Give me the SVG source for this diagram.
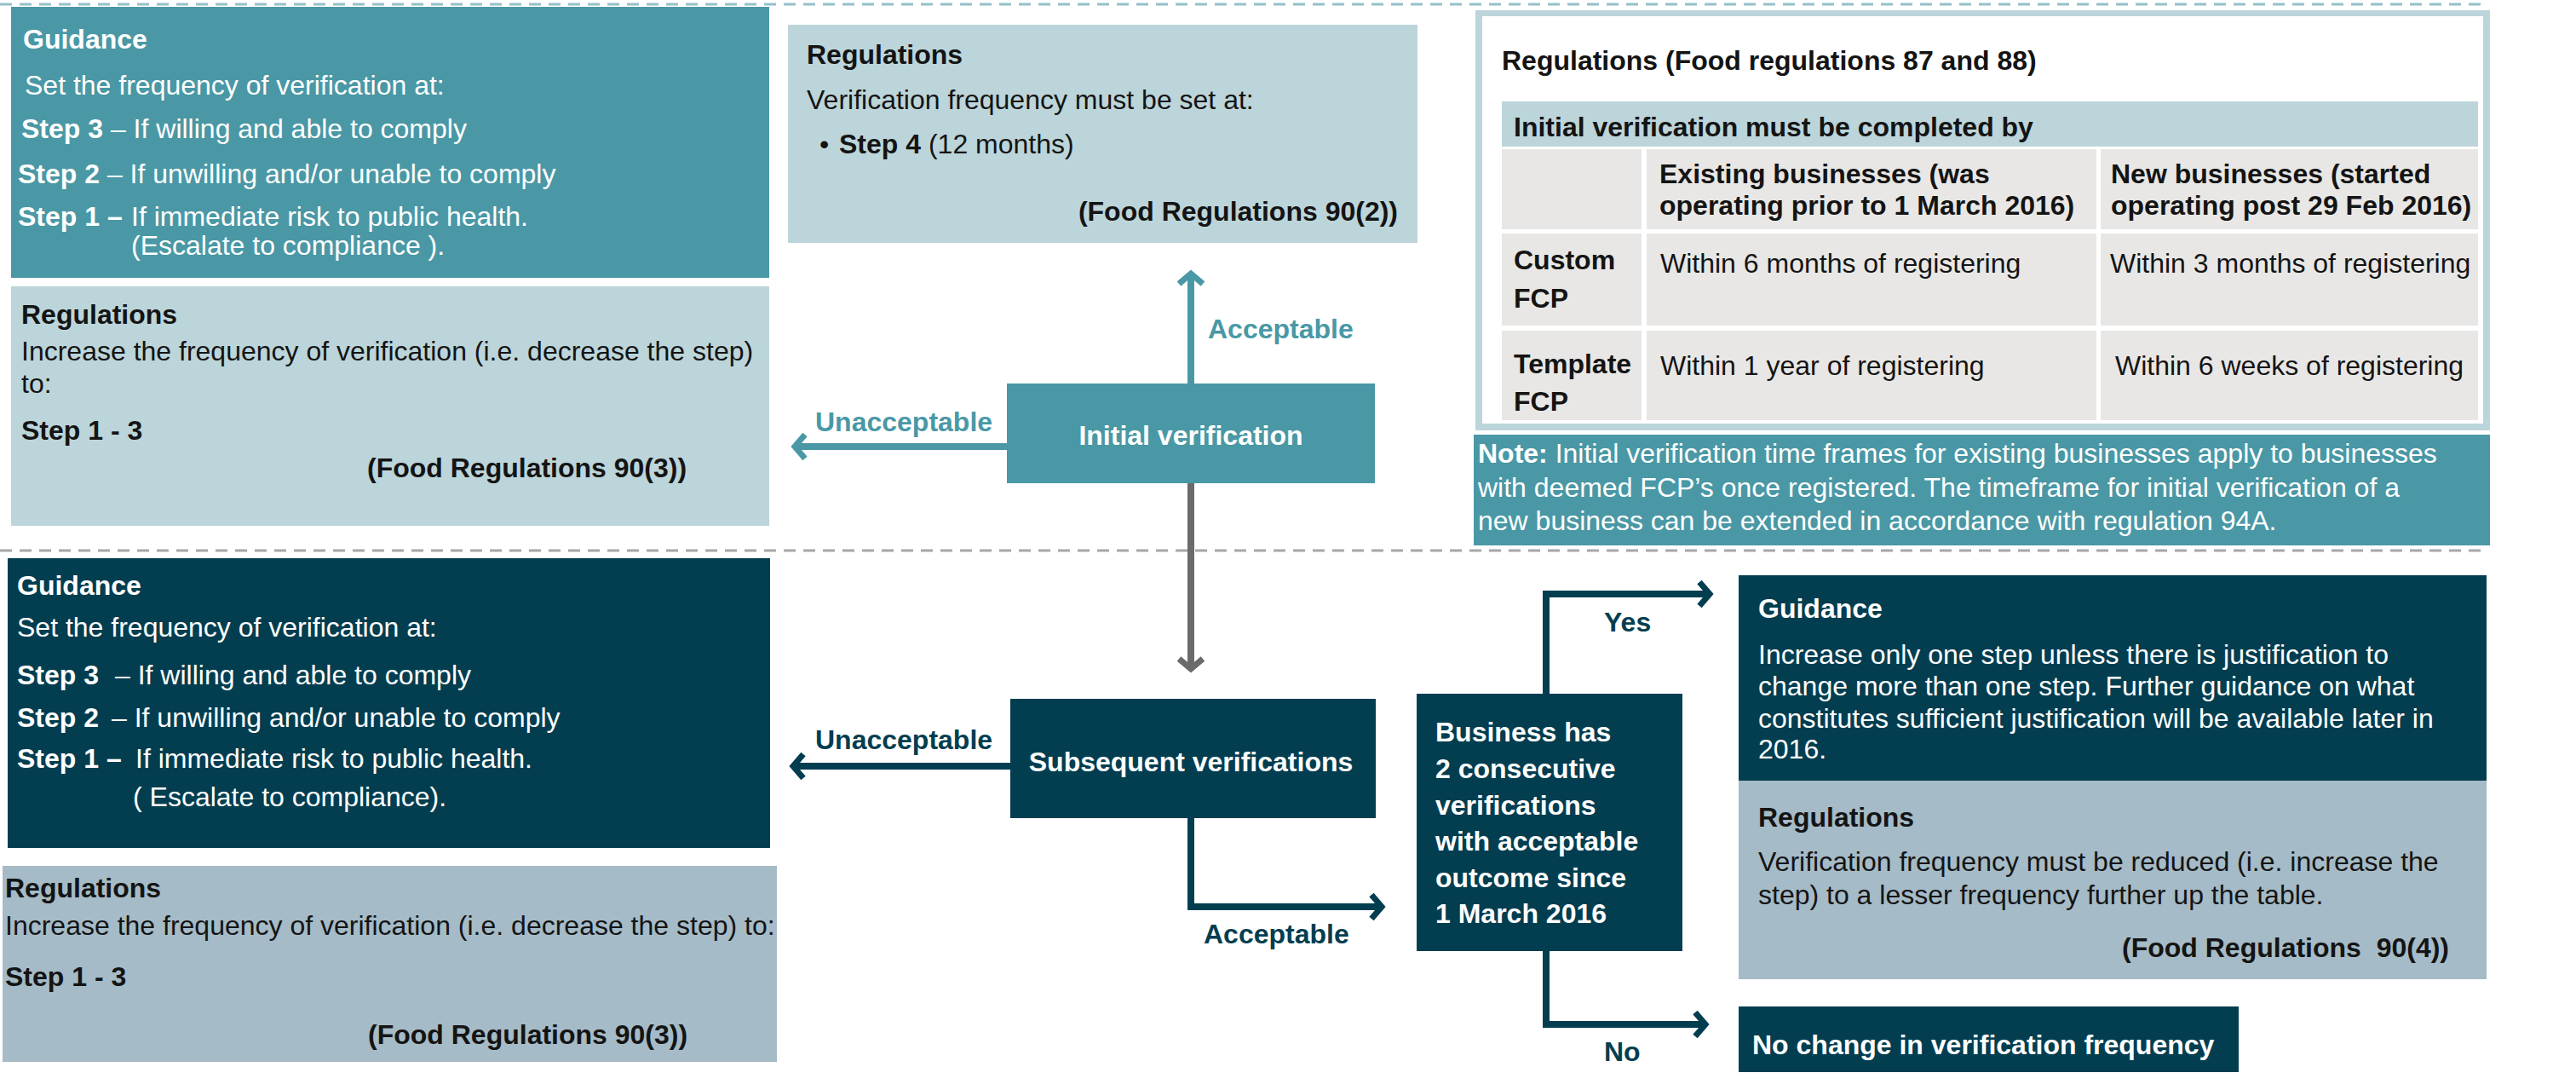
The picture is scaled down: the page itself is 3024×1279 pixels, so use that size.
<svg xmlns="http://www.w3.org/2000/svg" width="3024" height="1279" viewBox="0 0 3024 1279">
<style>
text{font-family:"Liberation Sans",Arial,sans-serif;font-size:32px;}
.b{font-weight:bold;}
.w{fill:#ffffff;}
.k{fill:#141414;}
.tl{fill:#4a98a5;}
.dk{fill:#033e50;}
.c{stroke-width:8;fill:none;stroke-linejoin:miter;}
</style>
<defs>
<marker id="ah-teal" markerUnits="userSpaceOnUse" viewBox="-20 -20 40 40" markerWidth="40" markerHeight="40" refX="0" refY="0" orient="auto"><path d="M-12,-14 L0,0 L-12,14" fill="none" stroke="#4a98a5" stroke-width="7"/></marker>
<marker id="ah-gray" markerUnits="userSpaceOnUse" viewBox="-20 -20 40 40" markerWidth="40" markerHeight="40" refX="0" refY="0" orient="auto"><path d="M-12,-14 L0,0 L-12,14" fill="none" stroke="#6b6b6b" stroke-width="7"/></marker>
<marker id="ah-dark" markerUnits="userSpaceOnUse" viewBox="-20 -20 40 40" markerWidth="40" markerHeight="40" refX="0" refY="0" orient="auto"><path d="M-12,-14 L0,0 L-12,14" fill="none" stroke="#033e50" stroke-width="7"/></marker>
</defs>
<rect width="3024" height="1279" fill="#ffffff"/>

<g id="dividers">
<line x1="0" y1="5" x2="2918" y2="5" stroke="#94c1c9" stroke-width="3" stroke-dasharray="14 9"/>
<line x1="0" y1="646" x2="2918" y2="646" stroke="#a6a6a6" stroke-width="3" stroke-dasharray="14 9"/>
</g>

<g id="guidance-initial">
<rect x="13" y="8" width="890" height="318" fill="#4a98a5"/>
<text class="b w" x="27" y="57">Guidance</text>
<text class="w" x="29" y="111">Set the frequency of verification at:</text>
<text class="w" x="25" y="162"><tspan class="b">Step 3</tspan> – If willing and able to comply</text>
<text class="w" x="21" y="215"><tspan class="b">Step 2</tspan> – If unwilling and/or unable to comply</text>
<text class="w" x="21" y="265"><tspan class="b">Step 1 –</tspan><tspan x="154">If immediate risk to public health.</tspan></text>
<text class="w" x="154" y="299">(Escalate to compliance ).</text>
</g>

<g id="regulations-initial-unacceptable">
<rect x="13" y="336" width="890" height="281" fill="#bcd5da"/>
<text class="b k" x="25" y="380">Regulations</text>
<text class="k" x="25" y="423">Increase the frequency of verification (i.e. decrease the step)</text>
<text class="k" x="25" y="461">to:</text>
<text class="b k" x="25" y="516">Step 1 - 3</text>
<text class="b k" x="431" y="560">(Food Regulations 90(3))</text>
</g>

<g id="regulations-initial-acceptable">
<rect x="925" y="29" width="739" height="256" fill="#bcd5da"/>
<text class="b k" x="947" y="75">Regulations</text>
<text class="k" x="947" y="128">Verification frequency must be set at:</text>
<text class="k" x="962" y="180">•</text>
<text class="k" x="985" y="180"><tspan class="b">Step 4</tspan> (12 months)</text>
<text class="b k" x="1641" y="259" text-anchor="end">(Food Regulations 90(2))</text>
</g>

<g id="initial-verification">
<rect x="1182" y="450" width="432" height="117" fill="#4a98a5"/>
<text class="b w" x="1398" y="522" text-anchor="middle">Initial verification</text>
</g>

<g id="regulations-table">
<rect x="1732" y="12" width="1191" height="493" fill="#bcd5da"/>
<rect x="1740" y="19" width="1175" height="478" fill="#ffffff"/>
<text class="b k" x="1763" y="82">Regulations (Food regulations 87 and 88)</text>
<rect x="1763" y="119" width="1146" height="53" fill="#bcd5da"/>
<text class="b k" x="1777" y="160">Initial verification must be completed by</text>
<g fill="#e8e7e5">
<rect x="1763" y="175" width="164" height="94"/>
<rect x="1933" y="175" width="528" height="94"/>
<rect x="2466" y="175" width="443" height="94"/>
<rect x="1763" y="274" width="164" height="108"/>
<rect x="1933" y="274" width="528" height="108"/>
<rect x="2466" y="274" width="443" height="108"/>
<rect x="1763" y="388" width="164" height="105"/>
<rect x="1933" y="388" width="528" height="105"/>
<rect x="2466" y="388" width="443" height="105"/>
</g>
<text class="b k" x="1948" y="215">Existing businesses (was</text>
<text class="b k" x="1948" y="252">operating prior to 1 March 2016)</text>
<text class="b k" x="2478" y="215">New businesses (started</text>
<text class="b k" x="2478" y="252">operating post 29 Feb 2016)</text>
<text class="b k" x="1777" y="316">Custom</text>
<text class="b k" x="1777" y="361">FCP</text>
<text class="k" x="1949" y="320">Within 6 months of registering</text>
<text class="k" x="2477" y="320">Within 3 months of registering</text>
<text class="b k" x="1777" y="438">Template</text>
<text class="b k" x="1777" y="482">FCP</text>
<text class="k" x="1949" y="440">Within 1 year of registering</text>
<text class="k" x="2483" y="440">Within 6 weeks of registering</text>
</g>

<g id="note">
<rect x="1730" y="510" width="1193" height="130" fill="#4a98a5"/>
<text class="w" x="1735" y="543"><tspan class="b">Note:</tspan> Initial verification time frames for existing businesses apply to businesses</text>
<text class="w" x="1735" y="583">with deemed FCP’s once registered. The timeframe for initial verification of a</text>
<text class="w" x="1735" y="622">new business can be extended in accordance with regulation 94A.</text>
</g>

<g id="guidance-subsequent">
<rect x="9" y="655" width="895" height="340" fill="#033e50"/>
<text class="b w" x="20" y="698">Guidance</text>
<text class="w" x="20" y="747">Set the frequency of verification at:</text>
<text class="w" x="20" y="803"><tspan class="b">Step 3</tspan><tspan x="135">– If willing and able to comply</tspan></text>
<text class="w" x="20" y="853"><tspan class="b">Step 2</tspan><tspan x="131">– If unwilling and/or unable to comply</tspan></text>
<text class="w" x="20" y="901"><tspan class="b">Step 1 –</tspan><tspan x="159">If immediate risk to public health.</tspan></text>
<text class="w" x="156" y="946">( Escalate to compliance).</text>
</g>

<g id="regulations-subsequent-unacceptable">
<rect x="3" y="1016" width="909" height="230" fill="#a5bbc7"/>
<text class="b k" x="6" y="1053">Regulations</text>
<text class="k" x="6" y="1097">Increase the frequency of verification (i.e. decrease the step) to:</text>
<text class="b k" x="6" y="1157">Step 1 - 3</text>
<text class="b k" x="432" y="1225">(Food Regulations 90(3))</text>
</g>

<g id="subsequent-verifications">
<rect x="1186" y="820" width="429" height="140" fill="#033e50"/>
<text class="b w" x="1398" y="905" text-anchor="middle">Subsequent verifications</text>
</g>

<g id="decision">
<rect x="1663" y="814" width="312" height="302" fill="#033e50"/>
<text class="b w" x="1685" y="870">Business has</text>
<text class="b w" x="1685" y="913">2 consecutive</text>
<text class="b w" x="1685" y="956">verifications</text>
<text class="b w" x="1685" y="998">with acceptable</text>
<text class="b w" x="1685" y="1041">outcome since</text>
<text class="b w" x="1685" y="1083">1 March 2016</text>
</g>

<g id="guidance-reduce">
<rect x="2041" y="675" width="878" height="241" fill="#033e50"/>
<text class="b w" x="2064" y="725">Guidance</text>
<text class="w" x="2064" y="779">Increase only one step unless there is justification to</text>
<text class="w" x="2064" y="816">change more than one step. Further guidance on what</text>
<text class="w" x="2064" y="854">constitutes sufficient justification will be available later in</text>
<text class="w" x="2064" y="890">2016.</text>
</g>

<g id="regulations-reduce">
<rect x="2041" y="916" width="878" height="233" fill="#a5bbc7"/>
<text class="b k" x="2064" y="970">Regulations</text>
<text class="k" x="2064" y="1022">Verification frequency must be reduced (i.e. increase the</text>
<text class="k" x="2064" y="1061">step) to a lesser frequency further up the table.</text>
<text class="b k" x="2875" y="1123" text-anchor="end">(Food Regulations&#160; 90(4))</text>
</g>

<g id="no-change">
<rect x="2041" y="1181" width="587" height="77" fill="#033e50"/>
<text class="b w" x="2057" y="1237">No change in verification frequency</text>
</g>

<g id="connectors">
<path class="c" d="M1398,450 L1398,321" stroke="#4a98a5" marker-end="url(#ah-teal)"/>
<path class="c" d="M1182,524 L933,524" stroke="#4a98a5" marker-end="url(#ah-teal)"/>
<path class="c" d="M1398,567 L1398,785" stroke="#6b6b6b" marker-end="url(#ah-gray)"/>
<path class="c" d="M1186,899 L931,899" stroke="#033e50" marker-end="url(#ah-dark)"/>
<path class="c" d="M1398,960 L1398,1064 L1622,1064" stroke="#033e50" marker-end="url(#ah-dark)"/>
<path class="c" d="M1815,814 L1815,697 L2007,697" stroke="#033e50" marker-end="url(#ah-dark)"/>
<path class="c" d="M1815,1116 L1815,1202 L2002,1202" stroke="#033e50" marker-end="url(#ah-dark)"/>
<text class="b tl" x="1418" y="397">Acceptable</text>
<text class="b tl" x="957" y="506">Unacceptable</text>
<text class="b dk" x="957" y="879">Unacceptable</text>
<text class="b dk" x="1413" y="1107">Acceptable</text>
<text class="b dk" x="1883" y="741">Yes</text>
<text class="b dk" x="1883" y="1245">No</text>
</g>
</svg>
